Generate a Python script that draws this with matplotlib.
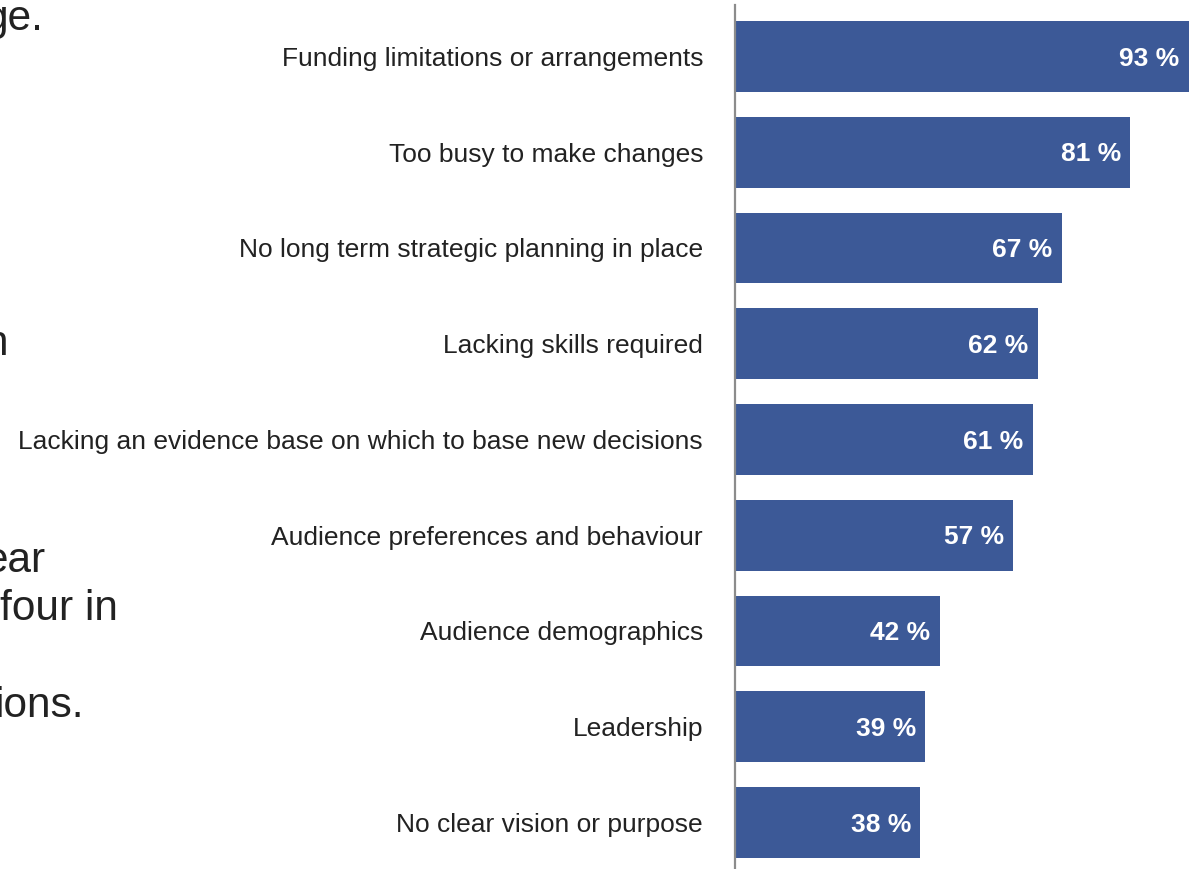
import matplotlib
matplotlib.use("Agg")
import matplotlib.pyplot as plt

plt.rcParams['font.family'] = ['Liberation Sans', 'DejaVu Sans']

categories = [
    "Funding limitations or arrangements",
    "Too busy to make changes",
    "No long term strategic planning in place",
    "Lacking skills required",
    "Lacking an evidence base on which to base new decisions",
    "Audience preferences and behaviour",
    "Audience demographics",
    "Leadership",
    "No clear vision or purpose",
]
values = [93, 81, 67, 62, 61, 57, 42, 39, 38]

# Fragments of the slide's body text, cut off at the left edge
side_text = ["ge.", "n", "ear", "four in", "ions."]
side_right = [43, 8, 45, 118, 84]      # right end, pixels
side_base = [30, 355, 572, 620, 717]   # baseline, pixels

BAR = "#3c5997"
TEXT = "#222222"

W, H = 1196, 869
fig = plt.figure(figsize=(W / 100, H / 100), dpi=100)
ax = fig.add_axes([735 / W, 0, (W - 735) / W, 864 / H])

ypos = list(range(len(categories)))
ax.barh(ypos, values, height=0.74, color=BAR, zorder=2)

for y, v in zip(ypos, values):
    ax.annotate(f"{v} %", xy=(v, y), xytext=(-6.8, -1.5), textcoords="offset points",
                ha="right", va="center", color="white", fontsize=19,
                fontweight="bold", zorder=3)

ax.set_xlim(0, (W - 735) / 4.88)
ax.set_ylim(8.486, -0.538)
ax.set_yticks(ypos)
ax.set_yticklabels(categories, fontsize=19, color=TEXT)
ax.tick_params(axis="y", length=0, pad=23)
ax.set_xticks([])
for s in ("top", "right", "bottom"):
    ax.spines[s].set_visible(False)
ax.spines["left"].set_color("#8c8c8c")
ax.spines["left"].set_linewidth(1.6)

for t, xr, yb in zip(side_text, side_right, side_base):
    fig.text(xr / W, 1 - yb / H, t, ha="right", va="baseline",
             fontsize=30.5, color=TEXT)

fig.savefig("out.png", dpi=100)
